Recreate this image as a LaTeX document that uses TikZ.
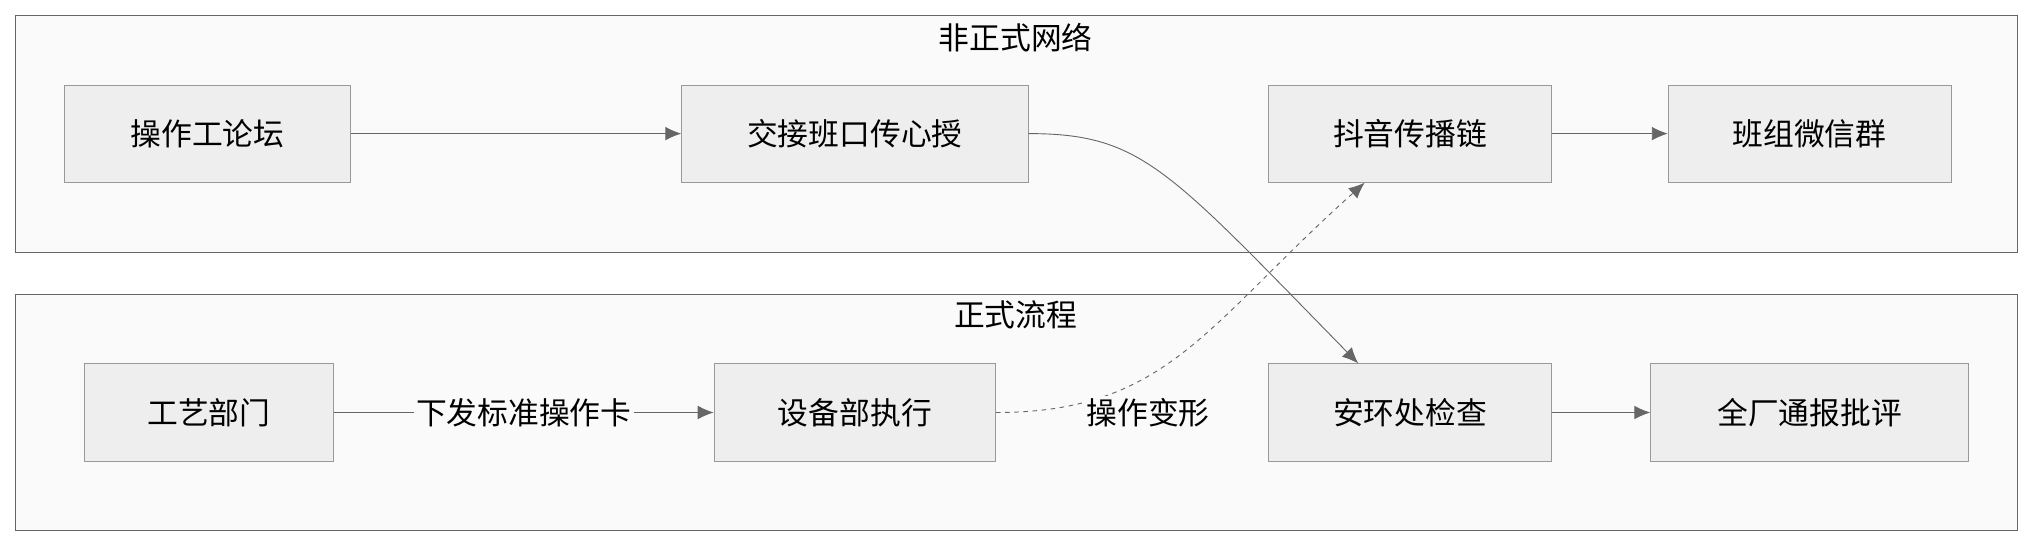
\documentclass[tikz,border=0pt]{standalone}
\usepackage{fontspec}
\setmainfont{Noto Sans CJK SC}
\usetikzlibrary{arrows.meta}
\definecolor{boxfill}{HTML}{EEEEEE}
\definecolor{boxline}{HTML}{999999}
\definecolor{groupfill}{HTML}{FAFAFA}
\definecolor{edgegray}{HTML}{666666}

\begin{document}
\begin{tikzpicture}[x=0.02cm, y=-0.02cm, font=\fontsize{13.5}{15}\selectfont,
		group_style/.style={draw=edgegray,fill=groupfill},
		node_style/.style={rectangle,draw=boxline,fill=boxfill,minimum height=1.5cm,inner sep=0pt},
		edge_style/.style={draw=edgegray,-{Latex[length=7pt,width=6pt]}}]
		
		\useasboundingbox (0,0) rectangle (1568,422);
		\draw[group_style] (12,12) rectangle (1555,195);
		\draw[group_style] (12,227) rectangle (1555,409);
		\node (g1) at (783,29) {非正式网络};
		\node (g2) at (783,243) {正式流程};
		
		\node[node_style,minimum width=4.4cm] (n0) at (160,103) {操作工论坛};
		\node[node_style,minimum width=5.34cm] (n1) at (659,103) {交接班口传心授};
		\node[node_style,minimum width=4.36cm] (n2) at (1087,103) {抖音传播链};
		\node[node_style,minimum width=4.36cm] (n3) at (1395,103) {班组微信群};
		\node[node_style,minimum width=3.84cm] (n4) at (161,318) {工艺部门};
		\node[node_style,minimum width=4.34cm] (n5) at (659,318) {设备部执行};
		\node[node_style,minimum width=4.36cm] (n6) at (1087,318) {安环处检查};
		\node[node_style,minimum width=4.9cm] (n7) at (1395,318) {全厂通报批评};
		
		\draw[edge_style]  (n0) -- (n1);
		\draw[edge_style]  (n2) -- (n3);
		\draw[edge_style]  (n6) -- (n7);
		\draw[edge_style]  (n4) -- node[fill=groupfill,inner sep=1pt]{下发标准操作卡} (n5);
		\draw[edge_style]  (n1.east) .. controls (880,103) and (900,130) .. (n6.north -| 1047,0);
		\draw[edge_style,dash pattern=on 2pt off 2pt]  (n5.east) .. controls (900,318) and (930,250) .. (n2.south -| 1052,0);
		\node[fill=groupfill,inner sep=1pt] (l1) at (885,318) {操作变形};
		
\end{tikzpicture}
\end{document}
